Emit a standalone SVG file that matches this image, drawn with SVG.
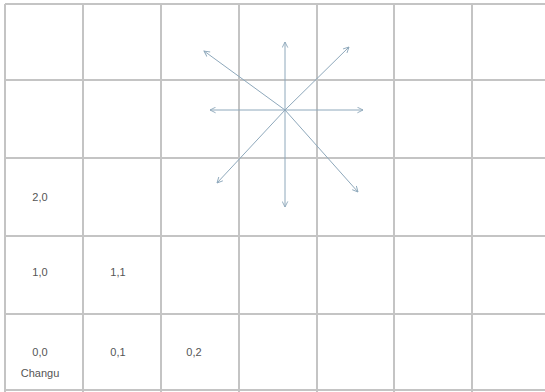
<svg xmlns="http://www.w3.org/2000/svg" width="545" height="392" viewBox="0 0 545 392">
<style>
.grid line{stroke:#c4c4c4;stroke-width:2}
.lbl{font-family:"Liberation Sans",Arial,sans-serif;font-size:11px;fill:#555;text-anchor:middle}
.arr{stroke:#8ea8bb;stroke-width:1;fill:none;marker-end:url(#ah)}
</style>
<defs>
<marker id="ah" viewBox="0 0 10 10" refX="9" refY="5" markerWidth="7" markerHeight="7" orient="auto" markerUnits="userSpaceOnUse">
<path d="M1,1 L9,5 L1,9" fill="none" stroke="#8ea8bb" stroke-width="1.3"/>
</marker>
</defs>
<rect width="545" height="392" fill="#fff"/>
<g id="grid" class="grid">
<line x1="5" y1="4" x2="5" y2="392"/>
<line x1="83" y1="4" x2="83" y2="392"/>
<line x1="161" y1="4" x2="161" y2="392"/>
<line x1="239" y1="4" x2="239" y2="392"/>
<line x1="317" y1="4" x2="317" y2="392"/>
<line x1="394" y1="4" x2="394" y2="392"/>
<line x1="472" y1="4" x2="472" y2="392"/>
<line x1="5" y1="4" x2="545" y2="4"/>
<line x1="5" y1="80" x2="545" y2="80"/>
<line x1="5" y1="158" x2="545" y2="158"/>
<line x1="5" y1="236" x2="545" y2="236"/>
<line x1="5" y1="314" x2="545" y2="314"/>
<line x1="5" y1="390" x2="545" y2="390"/>
</g>
<g id="cell-2-0"><text class="lbl" x="40" y="201">2,0</text></g>
<g id="cell-1-0"><text class="lbl" x="40" y="276">1,0</text></g>
<g id="cell-1-1"><text class="lbl" x="118" y="276">1,1</text></g>
<g id="cell-0-0"><text class="lbl" x="40" y="356">0,0</text><text class="lbl" x="40" y="377">Changu</text></g>
<g id="cell-0-1"><text class="lbl" x="118" y="356">0,1</text></g>
<g id="cell-0-2"><text class="lbl" x="194" y="356">0,2</text></g>
<g id="connectors">
<line class="arr" x1="285" y1="110" x2="285" y2="42"/>
<line class="arr" x1="285" y1="110" x2="285" y2="207"/>
<line class="arr" x1="285" y1="110" x2="210" y2="110"/>
<line class="arr" x1="285" y1="110" x2="363" y2="110"/>
<line class="arr" x1="285" y1="110" x2="204" y2="51"/>
<line class="arr" x1="285" y1="110" x2="349" y2="47"/>
<line class="arr" x1="285" y1="110" x2="217" y2="183"/>
<line class="arr" x1="285" y1="110" x2="358" y2="192"/>
</g>
</svg>
